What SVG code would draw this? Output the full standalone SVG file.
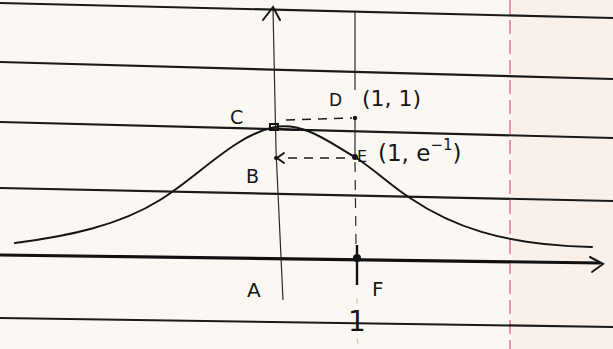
<svg xmlns="http://www.w3.org/2000/svg" width="613" height="349" viewBox="0 0 613 349">
<defs>
<style>
.rule{stroke:#1a1a1a;stroke-width:2.2;fill:none}
.ink{stroke:#151515;stroke-width:2;fill:none;stroke-linecap:round}
.thin{stroke:#2a2a2a;stroke-width:1.2;fill:none}
.dash{stroke:#1a1a1a;stroke-width:1.6;fill:none;stroke-dasharray:9 7}
.lbl{font-family:"DejaVu Sans","Liberation Sans",sans-serif;fill:#161616}
.pt{fill:#151515}
</style>
</defs>
<rect x="0" y="0" width="613" height="349" fill="#fbf8f3"/>
<rect x="512" y="0" width="101" height="349" fill="#f9f0ea"/>
<line x1="510" y1="0" x2="510" y2="349" stroke="#e0608a" stroke-width="1.3" stroke-dasharray="14 6"/>
<g id="rules">
<path class="rule" d="M0 3 L613 18"/>
<path class="rule" d="M0 62 L613 79"/>
<path class="rule" d="M0 122 L613 138"/>
<path class="rule" d="M0 188 L613 201"/>
<path class="rule" d="M0 318 L613 327"/>
</g>
<g id="axes">
<path d="M0 255 L600 263" stroke="#111" stroke-width="3.2" fill="none"/>
<path class="ink" d="M590 257 L603 264 L592 272"/>
<path class="thin" d="M273 8 L276 150 L283 300"/>
<path class="ink" d="M263 20 L273 7 L280 20"/>
<path class="thin" d="M355 12 L355 90"/>
<path class="thin" d="M355 116 L355 160"/>
<path class="thin" d="M355 162 L356 245" stroke-dasharray="10 8"/>
<path d="M357 245 L357 285" stroke="#111" stroke-width="2.4"/>
<path d="M357 298 L357 304 M357 338 L358 344" stroke="#c9b9b0" stroke-width="1"/>
</g>
<path id="curve" class="ink" d="M15 243 C70 236 120 225 160 200 C200 175 235 135 275 127 C305 122 330 143 355 157 C375 170 390 185 410 198 C450 225 500 245 592 247"/>
<g id="connectors">
<path class="dash" d="M286 120 L352 118"/>
<path class="dash" d="M288 158 L352 158"/>
<path class="ink" d="M284 153 L277 158 L284 163" stroke-width="1.6"/>
</g>
<g id="C"><rect x="270" y="124" width="8" height="6" fill="none" stroke="#111" stroke-width="2"/><path class="ink" d="M278 129 L298 130"/><text class="lbl" x="230" y="124" style="font-size:19px">C</text></g>
<g id="D"><circle class="pt" cx="355" cy="118" r="2.2"/><text class="lbl" x="329" y="106" style="font-size:17px">D</text></g>
<g id="P11"><text class="lbl" x="362" y="106" style="font-size:22px">(1, 1)</text></g>
<g id="E"><circle class="pt" cx="355" cy="157" r="3"/><text class="lbl" x="357" y="162" style="font-size:16px">E</text><text class="lbl" x="378" y="161" style="font-size:23px">(1, e<tspan style="font-size:15px" dy="-11">−1</tspan><tspan dy="11">)</tspan></text></g>
<g id="B"><circle class="pt" cx="276" cy="158" r="2"/><text class="lbl" x="246" y="183" style="font-size:19px">B</text></g>
<g id="A"><text class="lbl" x="247" y="297" style="font-size:20px">A</text></g>
<g id="F"><circle class="pt" cx="357" cy="258" r="4"/><text class="lbl" x="372" y="296" style="font-size:20px">F</text></g>
<g id="one"><text class="lbl" x="348" y="331" style="font-size:28px">1</text></g>
</svg>
